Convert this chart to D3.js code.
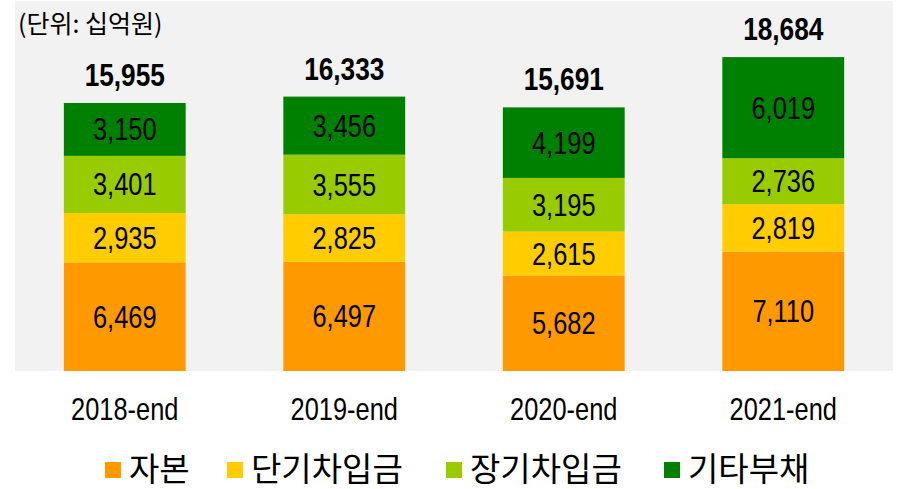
<!DOCTYPE html>
<html>
<head>
<meta charset="utf-8">
<script src="https://cdn.jsdelivr.net/npm/d3@7"></script>
<style>
  body { margin: 0; background: #fff; }
  svg { display: block; }
</style>
</head>
<body>
<div id="chart"></div>
<script>
var years = ["2018-end", "2019-end", "2020-end", "2021-end"];
var series = ["자본", "단기차입금", "장기차입금", "기타부채"];
var capital = [6469, 6497, 5682, 7110];
var shortLoans = [2935, 2825, 2615, 2819];
var longLoans = [3401, 3555, 3195, 2736];
var otherDebt = [3150, 3456, 4199, 6019];
var totals = [15955, 16333, 15691, 18684];
var colours = ["#ff9900", "#ffcc00", "#99cc00", "#008000"];

var width = 898, height = 489;
var plot = { left: 15, right: 893, top: 1, bottom: 371 };
// no narrow font installed, so squeeze Liberation Sans horizontally
var latin = "'Liberation Sans', Arial, sans-serif";
var squeeze = 0.82;
var korean = "'Noto Sans CJK KR', sans-serif";

var rows = years.map(function (y, i) {
    return { year: y, "자본": capital[i], "단기차입금": shortLoans[i], "장기차입금": longLoans[i], "기타부채": otherDebt[i], total: totals[i] };
});

var svg = d3.select("#chart").append("svg")
    .attr("width", width)
    .attr("height", height);

// plot background
svg.append("rect")
    .attr("x", plot.left)
    .attr("y", plot.top)
    .attr("width", plot.right - plot.left)
    .attr("height", plot.bottom - plot.top)
    .attr("fill", "#f2f2f2");

var x = d3.scaleBand()
    .domain(years)
    .range([plot.left, plot.right])
    .paddingInner(0.445)
    .paddingOuter(0.2225);

var y = d3.scaleLinear()
    .domain([0, 22000])
    .range([plot.bottom, plot.bottom - 22000 * 0.0168]);

function squeezed(cx, cy) {
    return "translate(" + cx + "," + cy + ") scale(" + squeeze + ",1)";
}

var stack = d3.stack().keys(series);
var layers = stack(rows);

var layer = svg.selectAll(".layer")
    .data(layers)
    .enter().append("g")
    .attr("class", "layer")
    .attr("fill", function (d, i) { return colours[i]; });

layer.selectAll("rect")
    .data(function (d) { return d; })
    .enter().append("rect")
    .attr("x", function (d) { return x(d.data.year); })
    .attr("y", function (d) { return y(d[1]); })
    .attr("width", x.bandwidth())
    .attr("height", function (d) { return y(d[0]) - y(d[1]); });

// segment labels
layer.selectAll("text")
    .data(function (d) { return d; })
    .enter().append("text")
    .attr("transform", function (d) {
        return squeezed(x(d.data.year) + x.bandwidth() / 2, (y(d[0]) + y(d[1])) / 2 + 11);
    })
    .attr("text-anchor", "middle")
    .style("font-family", latin)
    .style("font-size", "31px")
    .attr("fill", "#000")
    .text(function (d) { return d3.format(",")(d[1] - d[0]); });

// totals
svg.selectAll(".total")
    .data(rows)
    .enter().append("text")
    .attr("class", "total")
    .attr("transform", function (d) {
        return squeezed(x(d.year) + x.bandwidth() / 2, y(d.total) - 17);
    })
    .attr("text-anchor", "middle")
    .style("font-family", latin)
    .style("font-size", "32px")
    .style("font-weight", "bold")
    .text(function (d) { return d3.format(",")(d.total); });

// category axis
var axis = svg.append("g")
    .attr("transform", "translate(0," + plot.bottom + ")")
    .call(d3.axisBottom(x).tickSize(0).tickPadding(0));
axis.select(".domain").remove();
axis.selectAll("text")
    .attr("dy", null)
    .attr("y", null)
    .attr("transform", squeezed(0, 49))
    .style("font-family", latin)
    .style("font-size", "31px")
    .attr("fill", "#000");

// unit label
svg.append("text")
    .attr("x", 18)
    .attr("y", 33)
    .style("font-family", korean)
    .style("font-size", "25px")
    .text("(단위: 십억원)");

// legend
var legendX = [105, 227, 446, 664];
var legend = svg.selectAll(".legend")
    .data(series)
    .enter().append("g")
    .attr("class", "legend")
    .attr("transform", function (d, i) { return "translate(" + legendX[i] + ",462)"; });

legend.append("rect")
    .attr("width", 16)
    .attr("height", 16)
    .attr("fill", function (d, i) { return colours[i]; });

legend.append("text")
    .attr("x", 24)
    .attr("y", 7)
    .attr("dy", "0.36em")
    .style("font-family", korean)
    .style("font-size", "33px")
    .text(function (d) { return d; });
</script>
</body>
</html>
